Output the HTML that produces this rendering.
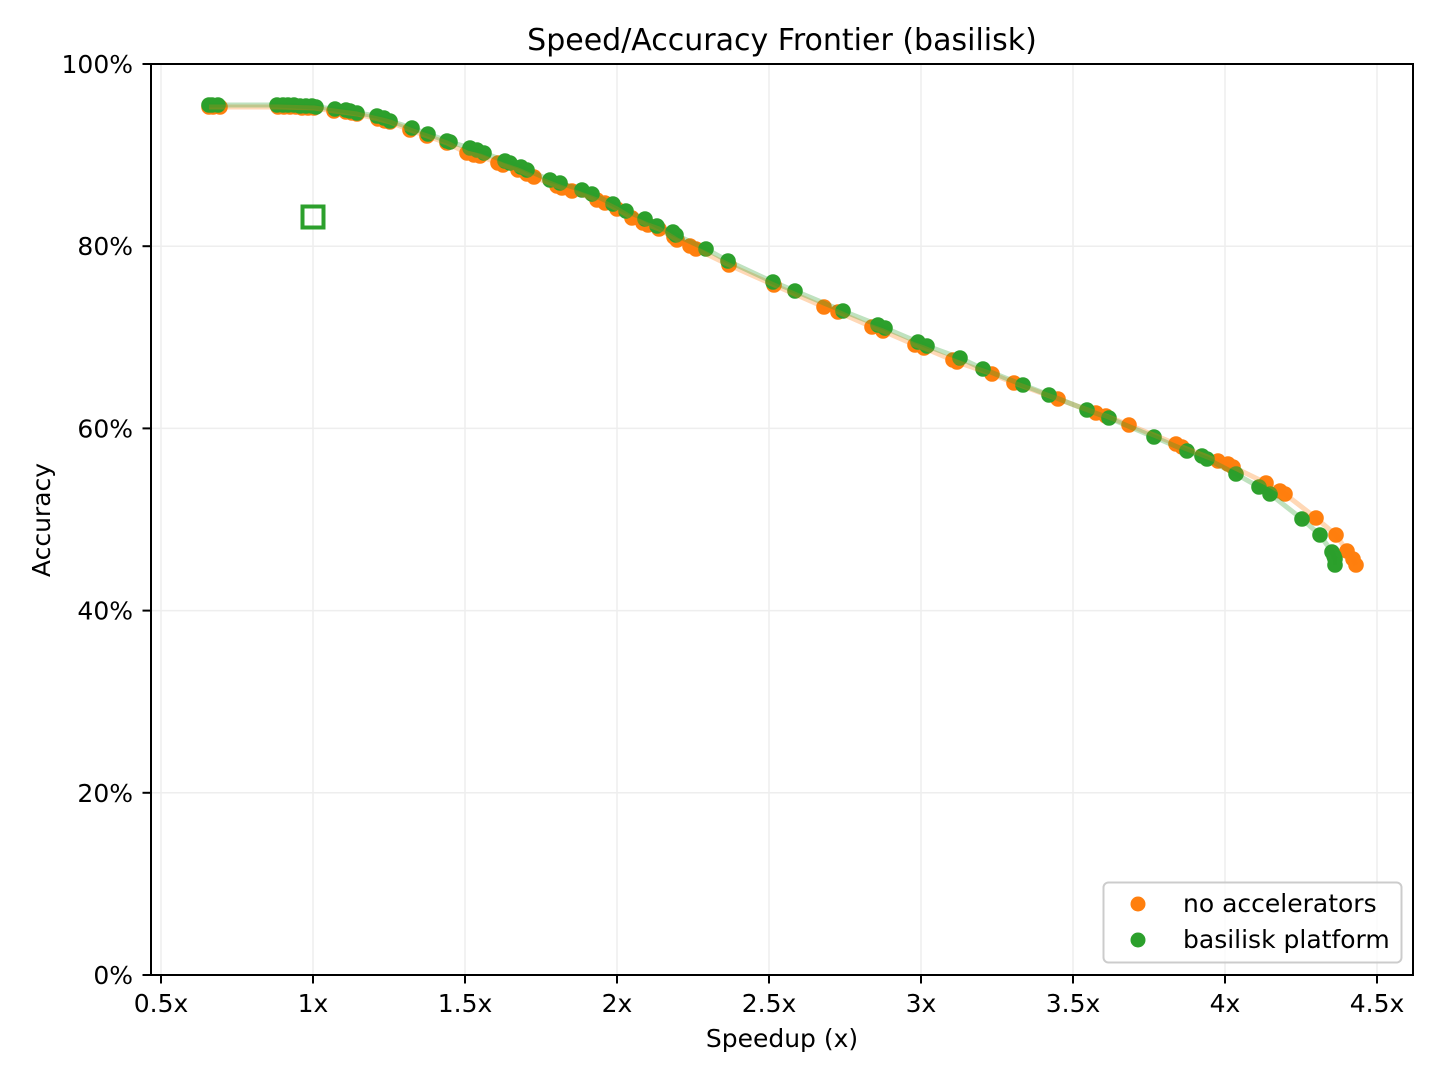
<!DOCTYPE html>
<html>
<head>
<meta charset="utf-8">
<style>
  html, body { margin: 0; padding: 0; background: #fff; }
  svg { display: block; }
  text { font-family: "DejaVu Sans", "Liberation Sans", sans-serif; fill: #000; }
</style>
</head>
<body>
<svg width="1440" height="1080" viewBox="0 0 1440 1080" xmlns="http://www.w3.org/2000/svg">
  <rect x="0" y="0" width="1440" height="1080" fill="#fff"/>
  <!-- grid -->
  <g stroke="#eeeeee" stroke-width="1.5">
    <line x1="161" y1="64" x2="161" y2="975"/>
    <line x1="313" y1="64" x2="313" y2="975"/>
    <line x1="465" y1="64" x2="465" y2="975"/>
    <line x1="617" y1="64" x2="617" y2="975"/>
    <line x1="769" y1="64" x2="769" y2="975"/>
    <line x1="921" y1="64" x2="921" y2="975"/>
    <line x1="1073" y1="64" x2="1073" y2="975"/>
    <line x1="1225" y1="64" x2="1225" y2="975"/>
    <line x1="1377" y1="64" x2="1377" y2="975"/>
    <line x1="151" y1="792.8" x2="1413" y2="792.8"/>
    <line x1="151" y1="610.6" x2="1413" y2="610.6"/>
    <line x1="151" y1="428.4" x2="1413" y2="428.4"/>
    <line x1="151" y1="246.2" x2="1413" y2="246.2"/>
  </g>

  <!-- orange scatter -->
  <g fill="#ff7f0e">
    <circle cx="209" cy="107" r="7.8"/><circle cx="213" cy="107" r="7.8"/><circle cx="220" cy="107" r="7.8"/>
    <circle cx="278" cy="107" r="7.8"/><circle cx="284" cy="107" r="7.8"/><circle cx="290" cy="107" r="7.8"/>
    <circle cx="296" cy="107" r="7.8"/><circle cx="302" cy="108" r="7.8"/><circle cx="308" cy="108" r="7.8"/>
    <circle cx="314" cy="108" r="7.8"/>
    <circle cx="334" cy="111" r="7.8"/><circle cx="346" cy="112" r="7.8"/><circle cx="352" cy="113" r="7.8"/><circle cx="357" cy="114" r="7.8"/>
    <circle cx="378" cy="119" r="7.8"/><circle cx="385" cy="121" r="7.8"/><circle cx="390" cy="122" r="7.8"/>
    <circle cx="410" cy="130" r="7.8"/><circle cx="427" cy="136" r="7.8"/><circle cx="447" cy="143" r="7.8"/>
    <circle cx="467" cy="153" r="7.8"/><circle cx="474" cy="155" r="7.8"/><circle cx="480" cy="156" r="7.8"/>
    <circle cx="498" cy="163" r="7.8"/><circle cx="503" cy="165" r="7.8"/>
    <circle cx="518" cy="170" r="7.8"/><circle cx="527" cy="174" r="7.8"/><circle cx="534" cy="177" r="7.8"/>
    <circle cx="557" cy="186" r="7.8"/><circle cx="562" cy="188" r="7.8"/><circle cx="572" cy="191" r="7.8"/>
    <circle cx="597" cy="200" r="7.8"/><circle cx="605" cy="203" r="7.8"/>
    <circle cx="617" cy="209" r="7.8"/><circle cx="632" cy="218" r="7.8"/>
    <circle cx="643" cy="223" r="7.8"/><circle cx="648" cy="225" r="7.8"/><circle cx="659" cy="229" r="7.8"/>
    <circle cx="674" cy="237" r="7.8"/><circle cx="677" cy="240" r="7.8"/>
    <circle cx="690" cy="246" r="7.8"/><circle cx="696" cy="249" r="7.8"/>
    <circle cx="729" cy="265" r="7.8"/>
    <circle cx="774" cy="285" r="7.8"/>
    <circle cx="824" cy="307" r="7.8"/>
    <circle cx="838" cy="312" r="7.8"/>
    <circle cx="872" cy="327" r="7.8"/><circle cx="883" cy="331" r="7.8"/>
    <circle cx="915" cy="345" r="7.8"/><circle cx="924" cy="348" r="7.8"/>
    <circle cx="953" cy="360" r="7.8"/><circle cx="957" cy="362" r="7.8"/>
    <circle cx="992" cy="374" r="7.8"/>
    <circle cx="1014" cy="383" r="7.8"/>
    <circle cx="1058" cy="399" r="7.8"/>
    <circle cx="1096" cy="413" r="7.8"/><circle cx="1106" cy="416" r="7.8"/>
    <circle cx="1129" cy="425" r="7.8"/>
    <circle cx="1176" cy="444" r="7.8"/><circle cx="1182" cy="447" r="7.8"/>
    <circle cx="1218" cy="461" r="7.8"/><circle cx="1228" cy="464" r="7.8"/><circle cx="1233" cy="467" r="7.8"/>
    <circle cx="1266" cy="483" r="7.8"/>
    <circle cx="1280" cy="491" r="7.8"/><circle cx="1285" cy="494" r="7.8"/>
    <circle cx="1316" cy="518" r="7.8"/>
    <circle cx="1336" cy="535" r="7.8"/>
    <circle cx="1347" cy="551" r="7.8"/>
    <circle cx="1353" cy="559" r="7.8"/>
    <circle cx="1356" cy="565" r="7.8"/>
  </g>

  <!-- green scatter -->
  <g fill="#2ca02c">
    <circle cx="209" cy="105" r="7.8"/><circle cx="212" cy="105" r="7.8"/><circle cx="218" cy="105" r="7.8"/>
    <circle cx="277" cy="105" r="7.8"/><circle cx="283" cy="105" r="7.8"/><circle cx="288" cy="105" r="7.8"/>
    <circle cx="294" cy="105" r="7.8"/><circle cx="300" cy="106" r="7.8"/><circle cx="306" cy="106" r="7.8"/>
    <circle cx="312" cy="106" r="7.8"/><circle cx="316" cy="107" r="7.8"/>
    <circle cx="335" cy="109" r="7.8"/><circle cx="346" cy="110" r="7.8"/><circle cx="350" cy="111" r="7.8"/><circle cx="357" cy="113" r="7.8"/>
    <circle cx="377" cy="116" r="7.8"/><circle cx="384" cy="118" r="7.8"/><circle cx="390" cy="121" r="7.8"/>
    <circle cx="412" cy="128" r="7.8"/><circle cx="428" cy="134" r="7.8"/><circle cx="447" cy="141" r="7.8"/><circle cx="450" cy="142" r="7.8"/>
    <circle cx="470" cy="148" r="7.8"/><circle cx="477" cy="150" r="7.8"/><circle cx="484" cy="153" r="7.8"/>
    <circle cx="505" cy="161" r="7.8"/><circle cx="510" cy="163" r="7.8"/>
    <circle cx="521" cy="167" r="7.8"/><circle cx="527" cy="170" r="7.8"/>
    <circle cx="550" cy="180" r="7.8"/><circle cx="560" cy="183" r="7.8"/>
    <circle cx="582" cy="190" r="7.8"/><circle cx="592" cy="194" r="7.8"/>
    <circle cx="613" cy="204" r="7.8"/><circle cx="626" cy="211" r="7.8"/>
    <circle cx="645" cy="219" r="7.8"/><circle cx="657" cy="226" r="7.8"/>
    <circle cx="673" cy="232" r="7.8"/><circle cx="676" cy="235" r="7.8"/>
    <circle cx="706" cy="249" r="7.8"/>
    <circle cx="728" cy="261" r="7.8"/>
    <circle cx="773" cy="282" r="7.8"/>
    <circle cx="795" cy="291" r="7.8"/>
    <circle cx="843" cy="311" r="7.8"/>
    <circle cx="878" cy="325" r="7.8"/><circle cx="885" cy="328" r="7.8"/>
    <circle cx="918" cy="342" r="7.8"/><circle cx="927" cy="346" r="7.8"/>
    <circle cx="960" cy="358" r="7.8"/>
    <circle cx="983" cy="369" r="7.8"/>
    <circle cx="1023" cy="385" r="7.8"/>
    <circle cx="1049" cy="395" r="7.8"/>
    <circle cx="1087" cy="410" r="7.8"/>
    <circle cx="1109" cy="418" r="7.8"/>
    <circle cx="1154" cy="437" r="7.8"/>
    <circle cx="1187" cy="451" r="7.8"/>
    <circle cx="1202" cy="456" r="7.8"/><circle cx="1207" cy="459" r="7.8"/>
    <circle cx="1236" cy="474" r="7.8"/>
    <circle cx="1259" cy="487" r="7.8"/>
    <circle cx="1270" cy="494" r="7.8"/>
    <circle cx="1302" cy="519" r="7.8"/>
    <circle cx="1320" cy="535" r="7.8"/>
    <circle cx="1332" cy="552" r="7.8"/><circle cx="1334" cy="556" r="7.8"/>
    <circle cx="1335" cy="559" r="7.8"/>
    <circle cx="1335" cy="565" r="7.8"/>
  </g>

  <!-- frontier lines -->
  <polyline fill="none" stroke="#ff7f0e" stroke-opacity="0.3" stroke-width="5" stroke-linejoin="round"
    points="209,107 220,107 278,107 314,108 334,111 357,114 378,119 390,122 410,130 427,136 447,143 467,153 480,156 498,163 503,165 518,170 534,177 557,186 572,191 597,200 605,203 617,209 632,218 648,225 659,229 677,240 690,246 696,249 729,265 774,285 824,307 838,312 872,327 883,331 915,345 924,348 957,362 992,374 1014,383 1058,399 1096,413 1106,416 1129,425 1176,444 1182,447 1218,461 1233,467 1266,483 1285,494 1316,518 1336,535 1347,551 1353,559 1356,565"/>
  <polyline fill="none" stroke="#2ca02c" stroke-opacity="0.3" stroke-width="5" stroke-linejoin="round"
    points="209,105 218,105 277,105 316,107 335,109 357,113 377,116 390,121 412,128 428,134 450,142 470,148 484,153 505,161 510,163 521,167 527,170 550,180 560,183 582,190 592,194 613,204 626,211 645,219 657,226 676,235 706,249 728,261 773,282 795,291 843,311 878,325 885,328 918,342 927,346 960,358 983,369 1023,385 1049,395 1087,410 1109,418 1154,437 1187,451 1207,459 1236,474 1259,487 1270,494 1302,519 1320,535 1332,552 1335,559 1335,565"/>

  <!-- baseline marker -->
  <rect x="302.5" y="206.5" width="21" height="21" fill="none" stroke="#2ca02c" stroke-width="4"/>

  <!-- axes frame -->
  <rect x="151" y="64" width="1262" height="911" fill="none" stroke="#000" stroke-width="2"/>

  <!-- ticks -->
  <g stroke="#000" stroke-width="2">
    <line x1="161" y1="975" x2="161" y2="983.5"/>
    <line x1="313" y1="975" x2="313" y2="983.5"/>
    <line x1="465" y1="975" x2="465" y2="983.5"/>
    <line x1="617" y1="975" x2="617" y2="983.5"/>
    <line x1="769" y1="975" x2="769" y2="983.5"/>
    <line x1="921" y1="975" x2="921" y2="983.5"/>
    <line x1="1073" y1="975" x2="1073" y2="983.5"/>
    <line x1="1225" y1="975" x2="1225" y2="983.5"/>
    <line x1="1377" y1="975" x2="1377" y2="983.5"/>
    <line x1="142.5" y1="975" x2="151" y2="975"/>
    <line x1="142.5" y1="792.8" x2="151" y2="792.8"/>
    <line x1="142.5" y1="610.6" x2="151" y2="610.6"/>
    <line x1="142.5" y1="428.4" x2="151" y2="428.4"/>
    <line x1="142.5" y1="246.2" x2="151" y2="246.2"/>
    <line x1="142.5" y1="64" x2="151" y2="64"/>
  </g>

  <!-- x tick labels -->
  <g font-size="25" text-anchor="middle">
    <text x="161" y="1012">0.5x</text>
    <text x="313" y="1012">1x</text>
    <text x="465" y="1012">1.5x</text>
    <text x="617" y="1012">2x</text>
    <text x="769" y="1012">2.5x</text>
    <text x="921" y="1012">3x</text>
    <text x="1073" y="1012">3.5x</text>
    <text x="1225" y="1012">4x</text>
    <text x="1377" y="1012">4.5x</text>
  </g>
  <!-- y tick labels -->
  <g font-size="25" text-anchor="end">
    <text x="133" y="984">0%</text>
    <text x="133" y="801.8">20%</text>
    <text x="133" y="619.6">40%</text>
    <text x="133" y="437.4">60%</text>
    <text x="133" y="255.2">80%</text>
    <text x="133" y="73">100%</text>
  </g>

  <!-- labels -->
  <text x="782" y="50" font-size="30" text-anchor="middle">Speed/Accuracy Frontier (basilisk)</text>
  <text x="782" y="1047" font-size="25" text-anchor="middle">Speedup (x)</text>
  <text transform="translate(50,520) rotate(-90)" font-size="25" text-anchor="middle">Accuracy</text>

  <!-- legend -->
  <rect x="1103.5" y="882.5" width="298" height="80" rx="5" ry="5" fill="#fff" fill-opacity="0.8" stroke="#cccccc" stroke-width="2"/>
  <circle cx="1138" cy="904" r="7.5" fill="#ff7f0e"/>
  <circle cx="1138" cy="940" r="7.5" fill="#2ca02c"/>
  <text x="1183" y="912" font-size="25">no accelerators</text>
  <text x="1183" y="948" font-size="25">basilisk platform</text>
</svg>
</body>
</html>
